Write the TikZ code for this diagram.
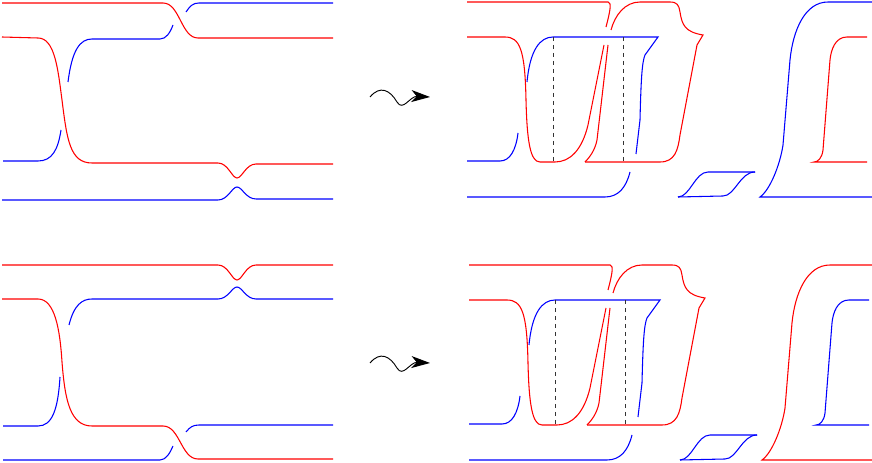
\documentclass[tikz,border=0pt]{standalone}
\usetikzlibrary{arrows.meta}
\tikzset{
  rs/.style={red, line width=0.8pt},
  bs/.style={blue, line width=0.8pt},
  ds/.style={black!80, dashed, line width=0.6pt},
}
% right-hand picture, #1 = outer strand, #2 = inner strand
\newcommand{\rpanel}[2]{%
% Loops
    \draw[rs] (467,2) -- (608,2) .. controls (612,2) and (610,12) .. (606,27);
    \draw[rs] (604,45) -- (588,125) .. controls (582,150) and (570,162) .. (555,162) -- (540,162)
        .. controls (530,162) and (527,140) .. (526,100) .. controls (525,50) and (520,37) .. (505,37) -- (467,37);
    \draw[rs] (611,30) .. controls (615,15) and (625,2) .. (640,2) -- (670,2)
        .. controls (677,2) and (679,5) .. (680,12) .. controls (682,25) and (685,32) .. (703,35)
        -- (697,45) -- (680,135) .. controls (678,150) and (675,162) .. (660,162) -- (585,162);
    \draw[rs] (585,162) .. controls (590,157) and (595,150) .. (597,140) -- (608,45);
    \draw[bs] (527,82) .. controls (530,50) and (540,37) .. (553,37) -- (658,37) -- (645,55)
        .. controls (642,62) and (641,80) .. (640,120) -- (636,154);
    \draw[bs] (467,161) -- (500,161) .. controls (510,161) and (516,150) .. (518,133);
    \draw[bs] (467,197) -- (605,197) .. controls (618,197) and (626,188) .. (630,172);
    \draw[ds] (553,37) -- (553,162);
    \draw[ds] (623,37) -- (623,162);
% Pieces
    \draw[bs] (678,197) .. controls (690,197) and (695,172) .. (708,172) -- (755,172);
    \draw[bs] (678,197) -- (723,196) .. controls (735,196) and (740,172) .. (755,172);
    \draw[#1, line width=0.8pt] (872,2) -- (828,2) .. controls (805,2) and (793,30) .. (790,60) -- (783,145)
        .. controls (780,165) and (770,190) .. (760,197) -- (872,197);
    \draw[#2, line width=0.8pt] (867,37) -- (847,37) .. controls (835,37) and (831,50) .. (830,60) -- (823,150)
        .. controls (822,158) and (818,162) .. (814,162) -- (867,162);
}
\begin{document}
\begin{tikzpicture}[x=0.75pt, y=-0.75pt]
\useasboundingbox (0,0) rectangle (872,463);
% Top left
    \draw[rs] (2,3) -- (163,3) .. controls (180,3) and (181,38) .. (198,38) -- (333,38);
    \draw[bs] (186,12) .. controls (190,6) and (193,3) .. (199,3) -- (333,3);
    \draw[bs] (68,82) .. controls (72,50) and (80,39) .. (92,39) -- (160,39) .. controls (166,39) and (170,33) .. (173,25);
    \draw[rs] (2,37) -- (38,38) .. controls (55,38) and (58,70) .. (62,100) .. controls (67,140) and (70,163) .. (92,163)
        -- (218,163) .. controls (228,163) and (232,178) .. (237,178) .. controls (242,178) and (246,164) .. (256,164) -- (333,164);
    \draw[bs] (3,161) -- (38,161) .. controls (52,161) and (58,150) .. (61,130);
    \draw[bs] (2,200) -- (218,200) .. controls (228,200) and (232,187) .. (237,187) .. controls (242,187) and (246,199) .. (256,199) -- (333,199);
% Bottom left
    \draw[rs] (2,265) -- (218,265) .. controls (228,265) and (232,280) .. (237,280) .. controls (242,280) and (246,265) .. (256,265) -- (333,265);
    \draw[bs] (69,325) .. controls (74,305) and (82,299) .. (92,299) -- (218,299) .. controls (228,299) and (232,287) .. (237,287)
        .. controls (242,287) and (246,299) .. (256,299) -- (333,299);
    \draw[rs] (2,299) -- (38,299) .. controls (55,299) and (60,330) .. (62,362) .. controls (65,400) and (70,426) .. (92,426)
        -- (163,426) .. controls (180,426) and (181,459) .. (198,459) -- (333,459);
    \draw[bs] (3,426) -- (38,426) .. controls (52,426) and (58,410) .. (60,377);
    \draw[bs] (3,460) -- (160,460) .. controls (166,460) and (170,453) .. (173,446);
    \draw[bs] (186,432) .. controls (190,427) and (193,425) .. (199,425) -- (333,425);
% Arrows
    \foreach \y in {0,266}
        \draw[-{Stealth[length=14pt,width=9pt,inset=4pt]}, line width=0.7pt] (370,97+\y) .. controls (380,85+\y) and (390,90+\y) .. (397,102+\y)
            .. controls (403,112+\y) and (410,96+\y) .. (430,97+\y);
% Right
    \rpanel{blue}{red}
    \begin{scope}[shift={(2,263)}]
        \rpanel{red}{blue}
    \end{scope}
\end{tikzpicture}
\end{document}
